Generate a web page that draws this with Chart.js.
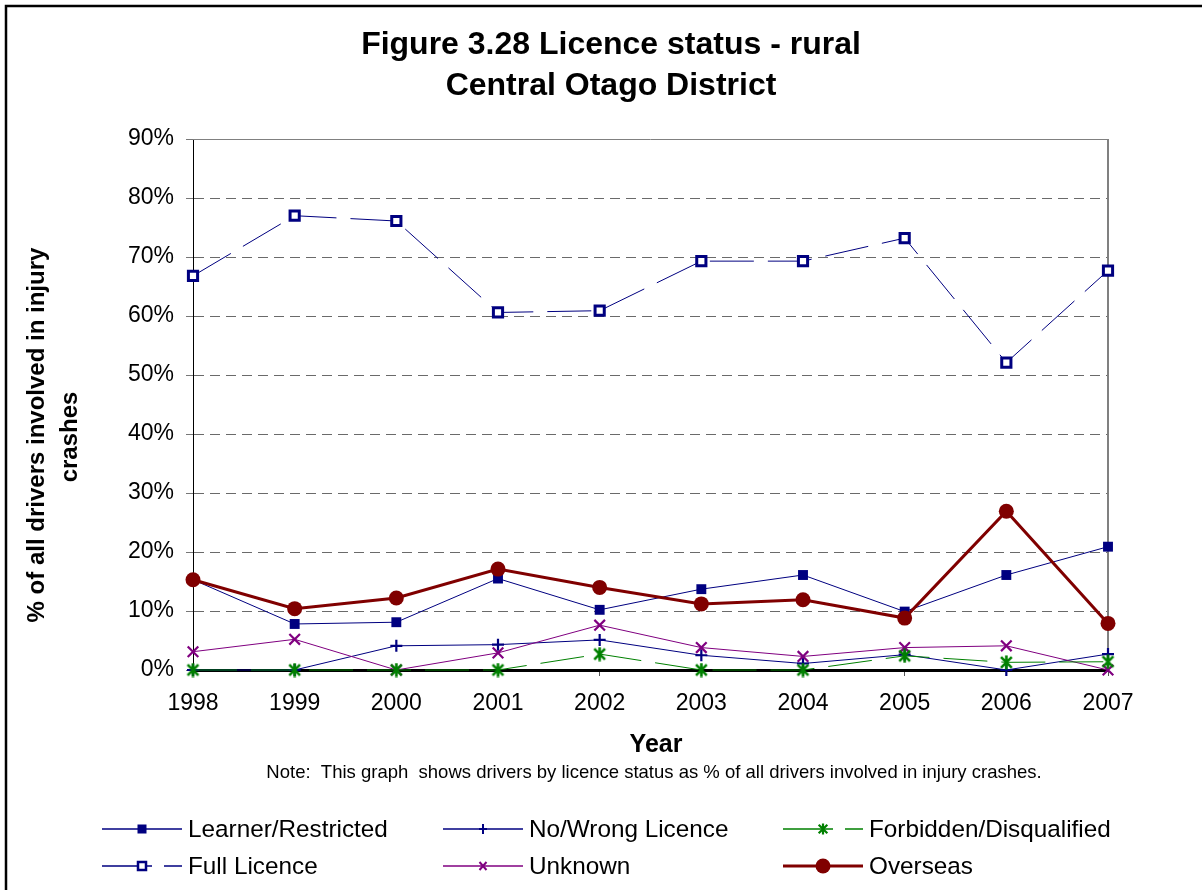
<!DOCTYPE html>
<html>
<head>
<meta charset="utf-8">
<script src="https://cdn.jsdelivr.net/npm/chart.js@4/dist/chart.umd.min.js"></script>
<style>
  html, body { margin: 0; padding: 0; background: #fff; }
  canvas { display: block; }
</style>
</head>
<body>
<canvas id="c" width="1202" height="890" style="width:1202px;height:890px"></canvas>
<script>
// ---- Data ----
const years = ['1998', '1999', '2000', '2001', '2002', '2003', '2004', '2005', '2006', '2007'];
const learnerRestricted = [15.3, 7.8, 8.1, 15.5, 10.2, 13.7, 16.1, 9.9, 16.1, 20.9];
const noWrongLicence = [0, 0, 4.1, 4.3, 5.1, 2.5, 1.1, 2.6, 0, 2.7];
const forbiddenDisqualified = [0, 0, 0, 0, 2.7, 0, 0, 2.4, 1.3, 1.4];
const fullLicence = [66.8, 77.0, 76.1, 60.6, 60.9, 69.3, 69.3, 73.2, 52.1, 67.7];
const unknown = [3.1, 5.2, 0, 2.9, 7.6, 3.8, 2.3, 3.8, 4.1, 0];
const overseas = [15.3, 10.4, 12.2, 17.1, 14.0, 11.2, 11.9, 8.8, 26.9, 7.9];
const seriesNames = ['Learner/Restricted', 'No/Wrong Licence', 'Forbidden/Disqualified', 'Full Licence', 'Unknown', 'Overseas'];
const yTicks = [0, 10, 20, 30, 40, 50, 60, 70, 80, 90];
const titleLines = ['Figure 3.28 Licence status - rural', 'Central Otago District'];
const yTitleLines = ['% of all drivers involved in injury', 'crashes'];
const xTitle = 'Year';
const noteText = 'Note:  This graph  shows drivers by licence status as % of all drivers involved in injury crashes.';

const FONT = '"Liberation Sans", Arial, Helvetica, sans-serif';
const NAVY = '#000080', GREEN = '#008000', PURPLE = '#800080', DRED = '#800000';

// asterisk marker (X + vertical bar) as an image point style
function makeAsterisk(size, color, lw) {
  const c = document.createElement('canvas');
  c.width = size; c.height = size;
  const g = c.getContext('2d');
  g.strokeStyle = color; g.lineWidth = lw; g.lineCap = 'butt';
  const m = size / 2, a = size * 0.36;
  g.beginPath();
  g.moveTo(m - a, m - a); g.lineTo(m + a, m + a);
  g.moveTo(m + a, m - a); g.lineTo(m - a, m + a);
  g.moveTo(m, 0.5); g.lineTo(m, size - 0.5);
  g.stroke();
  return c;
}
const asterisk = makeAsterisk(15, GREEN, 2.6);
const asteriskSmall = makeAsterisk(12, GREEN, 2.2);

const datasets = [
  { label: seriesNames[0], data: learnerRestricted, borderColor: NAVY, backgroundColor: NAVY, borderWidth: 1,
    pointStyle: 'rect', pointRadius: 7, pointBorderWidth: 0, pointBackgroundColor: NAVY, order: 4 },
  { label: seriesNames[1], data: noWrongLicence, borderColor: NAVY, backgroundColor: NAVY, borderWidth: 1,
    pointStyle: 'cross', pointRadius: 6, pointBorderWidth: 2.2, pointBorderColor: NAVY, order: 3 },
  { label: seriesNames[2], data: forbiddenDisqualified, borderColor: GREEN, backgroundColor: GREEN, borderWidth: 1,
    borderDash: [44, 14], pointStyle: asterisk, pointRadius: 7, order: 1 },
  { label: seriesNames[3], data: fullLicence, borderColor: NAVY, backgroundColor: '#fff', borderWidth: 1,
    borderDash: [44, 14], pointStyle: 'rect', pointRadius: 6.5, pointBorderWidth: 3, pointBorderColor: NAVY,
    pointBackgroundColor: '#fff', order: 5 },
  { label: seriesNames[4], data: unknown, borderColor: PURPLE, backgroundColor: PURPLE, borderWidth: 1,
    pointStyle: 'crossRot', pointRadius: 7.5, pointBorderWidth: 2.2, pointBorderColor: PURPLE, order: 2 },
  { label: seriesNames[5], data: overseas, borderColor: DRED, backgroundColor: DRED, borderWidth: 3,
    pointStyle: 'circle', pointRadius: 7.5, pointBorderWidth: 0, pointBackgroundColor: DRED, order: 0 }
];
datasets.forEach(d => { d.tension = 0; d.fill = false; d.clip = false; d.pointHoverRadius = d.pointRadius; });

// legend layout (drawn by plugin)
const legendCols = [102, 443, 783];
const legendRows = [829, 866];

function drawLegendMarker(ctx, ds, x, y) {
  ctx.save();
  if (ds.pointStyle instanceof HTMLCanvasElement) {
    ctx.drawImage(asteriskSmall, x - asteriskSmall.width / 2, y - asteriskSmall.height / 2);
  } else if (ds.pointStyle === 'rect') {
    if (ds.pointBorderWidth) {
      ctx.fillStyle = '#fff'; ctx.strokeStyle = ds.pointBorderColor; ctx.lineWidth = 2.5;
      ctx.fillRect(x - 4, y - 4, 8, 8); ctx.strokeRect(x - 4, y - 4, 8, 8);
    } else {
      ctx.fillStyle = ds.pointBackgroundColor; ctx.fillRect(x - 4.5, y - 4.5, 9, 9);
    }
  } else if (ds.pointStyle === 'cross') {
    ctx.strokeStyle = ds.pointBorderColor; ctx.lineWidth = 2;
    ctx.beginPath(); ctx.moveTo(x - 4, y); ctx.lineTo(x + 4, y); ctx.moveTo(x, y - 5); ctx.lineTo(x, y + 5); ctx.stroke();
  } else if (ds.pointStyle === 'crossRot') {
    ctx.strokeStyle = ds.pointBorderColor; ctx.lineWidth = 2;
    ctx.beginPath(); ctx.moveTo(x - 3.5, y - 4); ctx.lineTo(x + 3.5, y + 4); ctx.moveTo(x + 3.5, y - 4); ctx.lineTo(x - 3.5, y + 4); ctx.stroke();
  } else if (ds.pointStyle === 'circle') {
    ctx.fillStyle = ds.pointBackgroundColor;
    ctx.beginPath(); ctx.arc(x, y, 7.5, 0, Math.PI * 2); ctx.fill();
  }
  ctx.restore();
}

const decor = {
  id: 'decor',
  beforeDraw(chart) {
    const ctx = chart.ctx;
    ctx.save();
    ctx.fillStyle = '#fff';
    ctx.fillRect(0, 0, chart.width, chart.height);
    // outer frame (cropped on right/bottom)
    ctx.strokeStyle = '#000'; ctx.lineWidth = 2.5;
    ctx.beginPath();
    ctx.moveTo(6, chart.height + 10); ctx.lineTo(6, 6); ctx.lineTo(chart.width + 10, 6);
    ctx.stroke();
    ctx.restore();
  },
  beforeDatasetsDraw(chart) {
    const ctx = chart.ctx, a = chart.chartArea, y = chart.scales.y;
    ctx.save();
    const yt = Math.round(y.getPixelForValue(90)) + 0.5;
    ctx.strokeStyle = '#808080'; ctx.lineWidth = 1;
    ctx.beginPath(); ctx.moveTo(a.left, yt); ctx.lineTo(a.right, yt); ctx.stroke();
    ctx.lineWidth = 2;
    ctx.beginPath(); ctx.moveTo(a.right, yt - 0.5); ctx.lineTo(a.right, a.bottom); ctx.stroke();
    ctx.restore();
  },
  afterDraw(chart) {
    const ctx = chart.ctx;
    ctx.save();
    ctx.fillStyle = '#000';
    ctx.textBaseline = 'middle';
    // title
    ctx.textAlign = 'center';
    ctx.font = 'bold 32px ' + FONT;
    ctx.fillText(titleLines[0], 611, 45);
    ctx.fillText(titleLines[1], 611, 86);
    // y-axis title
    ctx.font = 'bold 24px ' + FONT;
    ctx.save();
    ctx.translate(37, 435); ctx.rotate(-Math.PI / 2);
    ctx.fillText(yTitleLines[0], 0, 0);
    ctx.restore();
    ctx.save();
    ctx.translate(70, 437); ctx.rotate(-Math.PI / 2);
    ctx.fillText(yTitleLines[1], 0, 0);
    ctx.restore();
    // x-axis title
    ctx.font = 'bold 25px ' + FONT;
    ctx.fillText(xTitle, 656, 745);
    // note
    ctx.font = '18.5px ' + FONT;
    ctx.fillText(noteText, 654, 773);
    // legend
    ctx.textAlign = 'left';
    ctx.font = '24.3px ' + FONT;
    chart.data.datasets.forEach((ds, i) => {
      const x0 = legendCols[i % 3], y0 = legendRows[Math.floor(i / 3)];
      ctx.save();
      ctx.strokeStyle = ds.borderColor;
      ctx.lineWidth = ds.borderWidth === 3 ? 3 : 1.3;
      ctx.setLineDash(ds.borderDash ? [50, 12] : []);
      ctx.beginPath(); ctx.moveTo(x0, y0); ctx.lineTo(x0 + 80, y0); ctx.stroke();
      ctx.restore();
      drawLegendMarker(ctx, ds, x0 + 40, y0);
      ctx.fillStyle = '#000';
      ctx.fillText(ds.label, x0 + 86, y0 + 1);
    });
    ctx.restore();
  }
};

new Chart(document.getElementById('c'), {
  type: 'line',
  data: { labels: years, datasets: datasets },
  plugins: [decor],
  options: {
    responsive: false,
    animation: false,
    devicePixelRatio: 1,
    layout: { padding: { top: 139, right: 94, left: 0, bottom: 0 } },
    plugins: { legend: { display: false }, title: { display: false }, tooltip: { enabled: false } },
    scales: {
      x: {
        type: 'category',
        offset: false,
        afterFit(scale) { scale.height = 220; },
        grid: { display: true, drawOnChartArea: false, drawTicks: true, tickLength: 6, tickColor: '#555', tickWidth: 1, offset: false },
        border: { display: true, color: '#000', width: 3 },
        ticks: { color: '#000', font: { family: FONT, size: 23 }, padding: 14, maxRotation: 0, autoSkip: false }
      },
      y: {
        min: 0, max: 90,
        afterFit(scale) { scale.width = 193; },
        afterBuildTicks(scale) { scale.ticks = yTicks.map(v => ({ value: v })); },
        grid: {
          drawOnChartArea: true, drawTicks: true, tickLength: 7, lineWidth: 1,
          color: (c) => (c.tick && (c.tick.value === 0 || c.tick.value === 90)) ? 'rgba(0,0,0,0)' : '#6a6a6a',
          tickColor: '#777', tickBorderDash: []
        },
        border: { display: true, color: '#000', width: 1, dash: [10, 6] },
        ticks: { color: '#000', font: { family: FONT, size: 23 }, padding: 12, callback: (v) => v + '%' }
      }
    }
  }
});
</script>
</body>
</html>
